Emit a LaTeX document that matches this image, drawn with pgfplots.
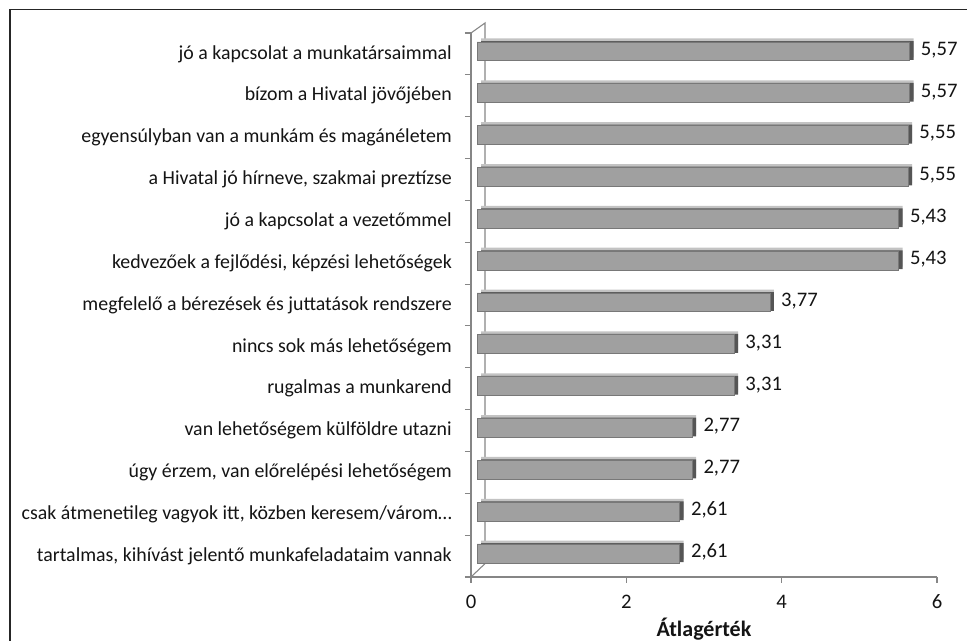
\documentclass[border=0pt]{standalone}
\usepackage{pgfplots}
\usepackage{pgfplotstable}
\pgfplotsset{compat=1.18}
\usepackage{fontspec}
\setmainfont{Carlito}

\definecolor{barface}{RGB}{160,160,160}
\definecolor{baredge}{RGB}{120,120,120}
\definecolor{bartop}{RGB}{195,195,195}
\definecolor{barend}{RGB}{85,85,85}
\definecolor{axisgray}{RGB}{134,134,134}
\definecolor{txt}{RGB}{20,20,20}

% bottom category first
\pgfplotstableread{
y v
0 2.61
1 2.61
2 2.77
3 2.77
4 3.31
5 3.31
6 3.77
7 5.43
8 5.43
9 5.55
10 5.55
11 5.57
12 5.57
}\atlag

\begin{document}
\begin{tikzpicture}
\path[use as bounding box] (0,0) rectangle (725.25pt,480.75pt);
% chart frame (only top and left edges are in the picture)
\draw[line width=1.1pt, black!85] (7.5pt,-5pt) -- (7.5pt,473.6pt) -- (740pt,473.6pt);
\begin{axis}[
  at={(353.25pt,48pt)}, anchor=south west,
  scale only axis, width=349.5pt, height=408pt,
  xmin=0, xmax=6, ymin=-0.5, ymax=12.5,
  axis x line*=bottom, axis y line*=left,
  axis line style={axisgray, line width=0.8pt},
  xtick={0,2,4,6}, minor xtick={0,2,4,6},
  ytick={0,...,12}, minor ytick={-0.5,0.5,...,12.5},
  major tick length=0pt, minor tick length=4.5pt, tick align=outside,
  tick style={axisgray, line width=0.8pt},
  yticklabels={
    {tartalmas, kihívást jelentő munkafeladataim vannak},
    {csak átmenetileg vagyok itt, közben keresem/várom…},
    {úgy érzem, van előrelépési lehetőségem},
    {van lehetőségem külföldre utazni},
    {rugalmas a munkarend},
    {nincs sok más lehetőségem},
    {megfelelő a bérezések és juttatások rendszere},
    {kedvezőek a fejlődési, képzési lehetőségek},
    {jó a kapcsolat a vezetőmmel},
    {a Hivatal jó hírneve, szakmai preztízse},
    {egyensúlyban van a munkám és magánéletem},
    {bízom a Hivatal jövőjében},
    {jó a kapcsolat a munkatársaimmal}},
  y tick label style={anchor=east, xshift=-10.9pt, font=\fontsize{14.9}{17}\selectfont, text=txt},
  x tick label style={anchor=center, yshift=-18.75pt, font=\fontsize{15.5}{18}\selectfont, text=txt},
  /pgf/number format/assume math mode=true,
  xlabel={\textbf{Átlagérték}},
  xlabel style={at={(axis description cs:0.5,0)}, anchor=center, yshift=-39pt, font=\fontsize{16.5}{19}\selectfont, text=txt},
  bar width=0.45,
  clip=false,
]
% back wall of the 3-D frame
\draw[axisgray, line width=0.8pt] (rel axis cs:0,0) -- ([shift={(10.5pt,10pt)}]rel axis cs:0,0)
  -- ([shift={(10.5pt,7.5pt)}]rel axis cs:0,1) -- (rel axis cs:0,1);
% top face of the bars
\addplot[xbar, bar shift=0pt, fill=bartop, draw=none, xshift=7.5pt, yshift=4.5pt]
  table[x=v, y=y] {\atlag};
% right end of the bars
\addplot[xbar, bar shift=0pt, fill=barend, draw=none, xshift=7.5pt, yshift=2.6pt]
  table[x=v, y=y] {\atlag};
% front face of the bars
\addplot[xbar, bar shift=0pt, fill=barface, draw=baredge, line width=0.4pt,
  xshift=4.5pt, yshift=2pt, point meta=x,
  nodes near coords={\pgfmathprintnumber[fixed,fixed zerofill,precision=2,use comma]{\pgfplotspointmeta}},
  every node near coord/.append style={anchor=west, xshift=5pt, yshift=1pt, font=\fontsize{15.5}{18}\selectfont, text=txt}]
  table[x=v, y=y] {\atlag};
\end{axis}
\end{tikzpicture}
\end{document}
